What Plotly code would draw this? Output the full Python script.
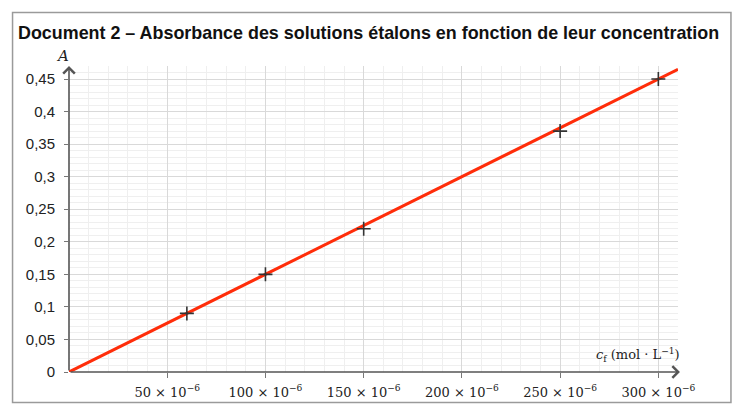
import plotly.graph_objects as go

# Data
conc = [60e-6, 100e-6, 150e-6, 250e-6, 300e-6]
absorb = [0.09, 0.15, 0.22, 0.37, 0.45]
fit_x = [0.0, 310e-6]
fit_y = [0.0, 0.465]

x_tickvals = [50e-6, 100e-6, 150e-6, 200e-6, 250e-6, 300e-6]
x_ticktext = ["50 × 10<sup>−6</sup>", "100 × 10<sup>−6</sup>", "150 × 10<sup>−6</sup>",
              "200 × 10<sup>−6</sup>", "250 × 10<sup>−6</sup>", "300 × 10<sup>−6</sup>"]
y_tickvals = [0, 0.05, 0.1, 0.15, 0.2, 0.25, 0.3, 0.35, 0.4, 0.45]
y_ticktext = ["0", "0,05", "0,1", "0,15", "0,2", "0,25", "0,3", "0,35", "0,4", "0,45"]

title = "Document 2 – Absorbance des solutions étalons en fonction de leur concentration"

# page body has an 8px default margin: the figure starts at (8, 8) in the window
OFF = 8
W, H = 747 - OFF, 414 - OFF
L = 69 - OFF
T = 66 - OFF
R = W - (678.5 - OFF)
B = H - (372 - OFF)
pw, ph = W - L - R, H - T - B

def px(xp):
    return (xp - OFF - L) / pw

def py(yp):
    return (H - B - (yp - OFF)) / ph

fig = go.Figure()
fig.add_trace(go.Scatter(x=fit_x, y=fit_y, mode="lines",
                         line=dict(color="#ff2d0a", width=3), cliponaxis=False,
                         hoverinfo="skip", showlegend=False))
fig.add_trace(go.Scatter(x=conc, y=absorb, mode="markers",
                         marker=dict(symbol="cross-thin", size=10,
                                     line=dict(color="#333333", width=1.6)),
                         showlegend=False))

serif = "DejaVu Serif, Liberation Serif, serif"
sans = "Liberation Sans, Arial, sans-serif"

fig.update_xaxes(range=[0, 310e-6], tickmode="array", tickvals=x_tickvals, ticktext=x_ticktext,
                 showgrid=True, gridcolor="#d9d9d9", gridwidth=1,
                 minor=dict(tickmode="linear", tick0=0, dtick=10e-6, showgrid=True,
                            gridcolor="#efefef", gridwidth=1),
                 ticks="outside", ticklen=5, tickcolor="#777", tickwidth=1,
                 ticklabelstandoff=3,
                 tickfont=dict(family=serif, size=13, color="#222"),
                 showline=False, zeroline=False, fixedrange=True)
fig.update_yaxes(range=[0, 0.47], tickmode="array", tickvals=y_tickvals, ticktext=y_ticktext,
                 showgrid=True, gridcolor="#d9d9d9", gridwidth=1,
                 minor=dict(tickmode="linear", tick0=0, dtick=0.01, showgrid=True,
                            gridcolor="#efefef", gridwidth=1),
                 ticks="outside", ticklen=4, tickcolor="#777", tickwidth=1,
                 ticklabelstandoff=6,
                 tickfont=dict(family=sans, size=15, color="#222"),
                 showline=False, zeroline=False, fixedrange=True)

annotations = [
    # axes with arrows
    dict(x=0, y=0.47, ax=0, ay=0, xref="x", yref="y", axref="x", ayref="y",
         showarrow=True, arrowhead=4, arrowsize=1.4, arrowwidth=1.6, arrowcolor="#555",
         text=""),
    dict(x=311e-6, y=0, ax=0, ay=0, xref="x", yref="y", axref="x", ayref="y",
         showarrow=True, arrowhead=4, arrowsize=1.4, arrowwidth=1.6, arrowcolor="#555",
         text=""),
    dict(x=px(369), y=py(33), xref="paper", yref="paper", showarrow=False,
         text="<b>" + title + "</b>", font=dict(family=sans, size=17.9, color="#111"),
         xanchor="center", yanchor="middle"),
    dict(x=px(62), y=py(56), xref="paper", yref="paper", showarrow=False,
         text="<i>A</i>", font=dict(family=serif, size=15, color="#222"),
         xanchor="center", yanchor="middle"),
    dict(x=px(683), y=py(355), xref="paper", yref="paper", showarrow=False,
         text="<i>c</i><sub>f</sub> (mol · L<sup>−1</sup>)",
         font=dict(family=serif, size=13, color="#222"),
         xanchor="right", yanchor="middle"),
]

shapes = [
    dict(type="rect", xref="paper", yref="paper",
         x0=px(12.5), x1=px(731.5), y0=py(402.5), y1=py(12.5),
         line=dict(color="#9a9a9a", width=1.5), fillcolor="rgba(0,0,0,0)", layer="below"),
]

fig.update_layout(width=W, height=H, margin=dict(l=L, r=R, t=T, b=B),
                  paper_bgcolor="white", plot_bgcolor="white",
                  annotations=annotations, shapes=shapes, showlegend=False)

fig.write_html("out.html")
